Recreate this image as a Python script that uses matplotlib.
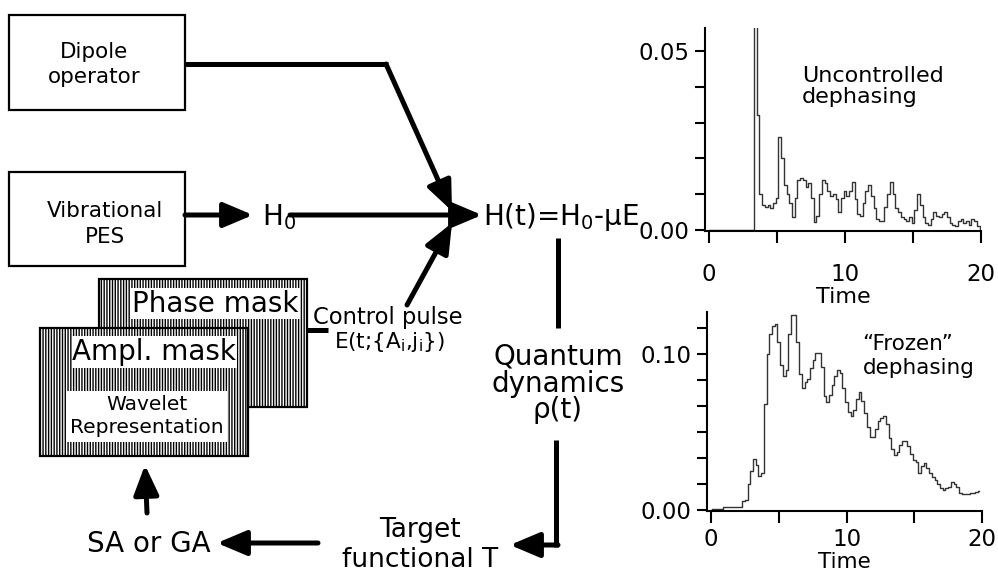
import numpy as np
import matplotlib.pyplot as plt
from matplotlib.patches import Rectangle
from matplotlib.ticker import MultipleLocator, FixedLocator

# populations, time step 0.2
dt = 0.2
uncontrolled = [0, 0, 0, 0, 0, 0, 0, 0, 0, 0, 0, 0, 0, 0, 0, 0, 0,
                0.060, 0.032, 0.010,
                0.007, 0.0065, 0.007, 0.006, 0.0075,
                0.009, 0.026, 0.020, 0.0125, 0.010,
                0.0075, 0.0035, 0.009, 0.014, 0.0145,
                0.014, 0.012, 0.013, 0.009, 0.0023,
                0.004, 0.010, 0.014, 0.013, 0.011,
                0.0095, 0.010, 0.0085, 0.005, 0.009,
                0.011, 0.0095, 0.011, 0.0135, 0.0085,
                0.0045, 0.004, 0.0075, 0.011, 0.0125,
                0.0095, 0.006, 0.003, 0.0025, 0.0025,
                0.0065, 0.010, 0.0135, 0.010, 0.006,
                0.005, 0.0035, 0.003, 0.0025, 0.0035,
                0.002, 0.0055, 0.010, 0.007, 0.0035,
                0.002, 0.0015, 0.003, 0.005, 0.004,
                0.0035, 0.0045, 0.005, 0.0035, 0.002,
                0.0015, 0.001, 0.0025, 0.003, 0.002,
                0.0025, 0.0015, 0.003, 0.0025, 0.001,
                0.0]
frozen = [0.0, 0.0005, 0.0005, 0.0005, 0.0005,
          0.0017, 0.0017, 0.0017, 0.0017, 0.0017, 0.0017, 0.0017,
          0.006, 0.0065, 0.017, 0.025, 0.033, 0.029, 0.022, 0.024,
          0.068, 0.100, 0.113, 0.118, 0.119,
          0.108, 0.093, 0.086, 0.090, 0.113,
          0.125, 0.125, 0.108, 0.087, 0.078,
          0.082, 0.084, 0.091, 0.096, 0.101,
          0.101, 0.092, 0.073, 0.069, 0.074,
          0.080, 0.086, 0.090, 0.088, 0.078,
          0.069, 0.063, 0.060, 0.064, 0.071,
          0.076, 0.070, 0.062, 0.053, 0.047,
          0.047, 0.052, 0.057, 0.059, 0.060,
          0.055, 0.046, 0.039, 0.035, 0.037,
          0.042, 0.044, 0.044, 0.041, 0.036,
          0.032, 0.031, 0.024, 0.028, 0.030,
          0.027, 0.024, 0.021, 0.019, 0.017,
          0.014, 0.013, 0.014, 0.015, 0.018,
          0.017, 0.015, 0.011, 0.010, 0.010,
          0.010, 0.011, 0.011, 0.0115, 0.012]

t_unc = np.arange(len(uncontrolled)) * dt
t_frz = np.arange(len(frozen)) * dt

W, H = 998, 574
fig = plt.figure(figsize=(W / 100, H / 100), dpi=100)

# ---------- flow diagram, pixel coordinates ----------
ax = fig.add_axes([0, 0, 1, 1])
ax.set_xlim(0, W)
ax.set_ylim(H, 0)
ax.axis('off')

LW = 3.6
head = '-|>,head_length=0.9,head_width=0.38'


def txt(x, y, s, size, ha='center'):
    ax.text(x, y, s, fontsize=size, ha=ha, va='baseline', color='k')


def arrow(p0, p1):
    ax.annotate('', xy=p1, xytext=p0,
                arrowprops=dict(arrowstyle=head, lw=LW, color='k',
                                mutation_scale=20, shrinkA=0, shrinkB=0))


def seg(xs, ys):
    ax.plot(xs, ys, color='k', lw=LW, solid_capstyle='butt')


# plain boxes
ax.add_patch(Rectangle((9, 15), 176, 95, fill=False, ec='k', lw=1.6))
ax.add_patch(Rectangle((9, 172), 176, 94, fill=False, ec='k', lw=1.6))
txt(94, 58, 'Dipole', 15.5)
txt(94, 83, 'operator', 15.5)
txt(105, 217, 'Vibrational', 15.5)
txt(105, 243, 'PES', 15.5)

# hatched mask boxes
plt.rcParams['hatch.linewidth'] = 1.0
ax.add_patch(Rectangle((99, 279), 208, 128, fc='white', ec='k', lw=1.6,
                       hatch='||||||', zorder=2))
ax.add_patch(Rectangle((130, 288), 170, 31, fc='white', ec='none', zorder=3))
ax.text(215, 312, 'Phase mask', fontsize=20, ha='center', va='baseline', zorder=4)

ax.add_patch(Rectangle((40, 328), 208, 128, fc='white', ec='k', lw=1.6,
                       hatch='||||||', zorder=5))
ax.add_patch(Rectangle((72, 336), 165, 32, fc='white', ec='none', zorder=6))
ax.add_patch(Rectangle((67, 391), 160, 51, fc='white', ec='none', zorder=6))
ax.text(154, 360, 'Ampl. mask', fontsize=20, ha='center', va='baseline', zorder=7)
ax.text(147, 410, 'Wavelet', fontsize=14.5, ha='center', va='baseline', zorder=7)
ax.text(147, 433, 'Representation', fontsize=14.5, ha='center', va='baseline', zorder=7)

# arrows into H(t)
seg([185, 388], [64, 64])
arrow((386, 64), (452, 211))
arrow((185, 215), (253, 215))
txt(262, 225, r'H$_0$', 20, ha='left')
arrow((290, 215), (482, 215))
arrow((407, 305), (452, 223))
txt(483, 225, r'H(t)=H$_0$-μE', 20, ha='left')

# control pulse
seg([307, 328], [330, 330])
txt(388, 324, 'Control pulse', 16.3)
txt(390, 348, r'E(t;{A$_\mathrm{i}$,j$_\mathrm{i}$})', 15.5)

# quantum dynamics loop
seg([558, 558], [238, 328])
txt(558, 365, 'Quantum', 20)
txt(558, 392, 'dynamics', 20)
txt(558, 418, 'ρ(t)', 20)
seg([556, 556], [440, 547])
arrow((558, 545), (510, 545))
txt(420, 537, 'Target', 19)
txt(420, 567, 'functional T', 19)
arrow((318, 543), (217, 543))
txt(87, 552, 'SA or GA', 20, ha='left')
arrow((147, 513), (145, 465))


# ---------- the two time traces ----------
def style(a, pad_x):
    for s in ('top', 'right'):
        a.spines[s].set_visible(False)
    for s in ('left', 'bottom'):
        a.spines[s].set_linewidth(1.5)
    a.tick_params(which='both', direction='out', width=1.5, colors='k',
                  labelsize=16.5)
    a.tick_params(axis='x', which='both', length=8.6, pad=pad_x)
    a.tick_params(axis='y', which='both', length=7.2, pad=4)
    a.set_xlim(-0.3, 20)
    a.xaxis.set_major_locator(FixedLocator([0, 10, 20]))
    a.xaxis.set_minor_locator(FixedLocator([5, 15]))
    a.set_xticklabels(['0', '10', '20'])


ax1 = fig.add_axes([705 / W, 1 - 231 / H, 276 / W, 203 / H])
ax1.plot(t_unc, uncontrolled, drawstyle='steps-mid', color='#333333', lw=1.0)
style(ax1, 14.5)
ax1.set_ylim(-0.0003, 0.0564)
ax1.yaxis.set_major_locator(FixedLocator([0, 0.05]))
ax1.yaxis.set_minor_locator(MultipleLocator(0.01))
ax1.set_yticklabels(['0.00', '0.05'])
ax1.set_xlabel('Time', fontsize=16, labelpad=0.5)
ax1.text(802, 82, 'Uncontrolled', transform=ax.transData, fontsize=16,
         va='baseline')
ax1.text(802, 103, 'dephasing', transform=ax.transData, fontsize=16,
         va='baseline')

ax2 = fig.add_axes([707 / W, 1 - 511 / H, 275 / W, 199 / H])
ax2.plot(t_frz, frozen, drawstyle='steps-mid', color='#333333', lw=1.0)
style(ax2, 4)
ax2.set_ylim(-0.0006, 0.127)
ax2.yaxis.set_major_locator(FixedLocator([0, 0.10]))
ax2.yaxis.set_minor_locator(MultipleLocator(0.1 / 6))
ax2.set_yticklabels(['0.00', '0.10'])
ax2.set_xlabel('Time', fontsize=15.5, labelpad=0)
ax2.text(862, 350, '“Frozen”', transform=ax.transData, fontsize=15.5,
         va='baseline')
ax2.text(863, 374, 'dephasing', transform=ax.transData, fontsize=15.5,
         va='baseline')

fig.savefig('out.png', dpi=100)
